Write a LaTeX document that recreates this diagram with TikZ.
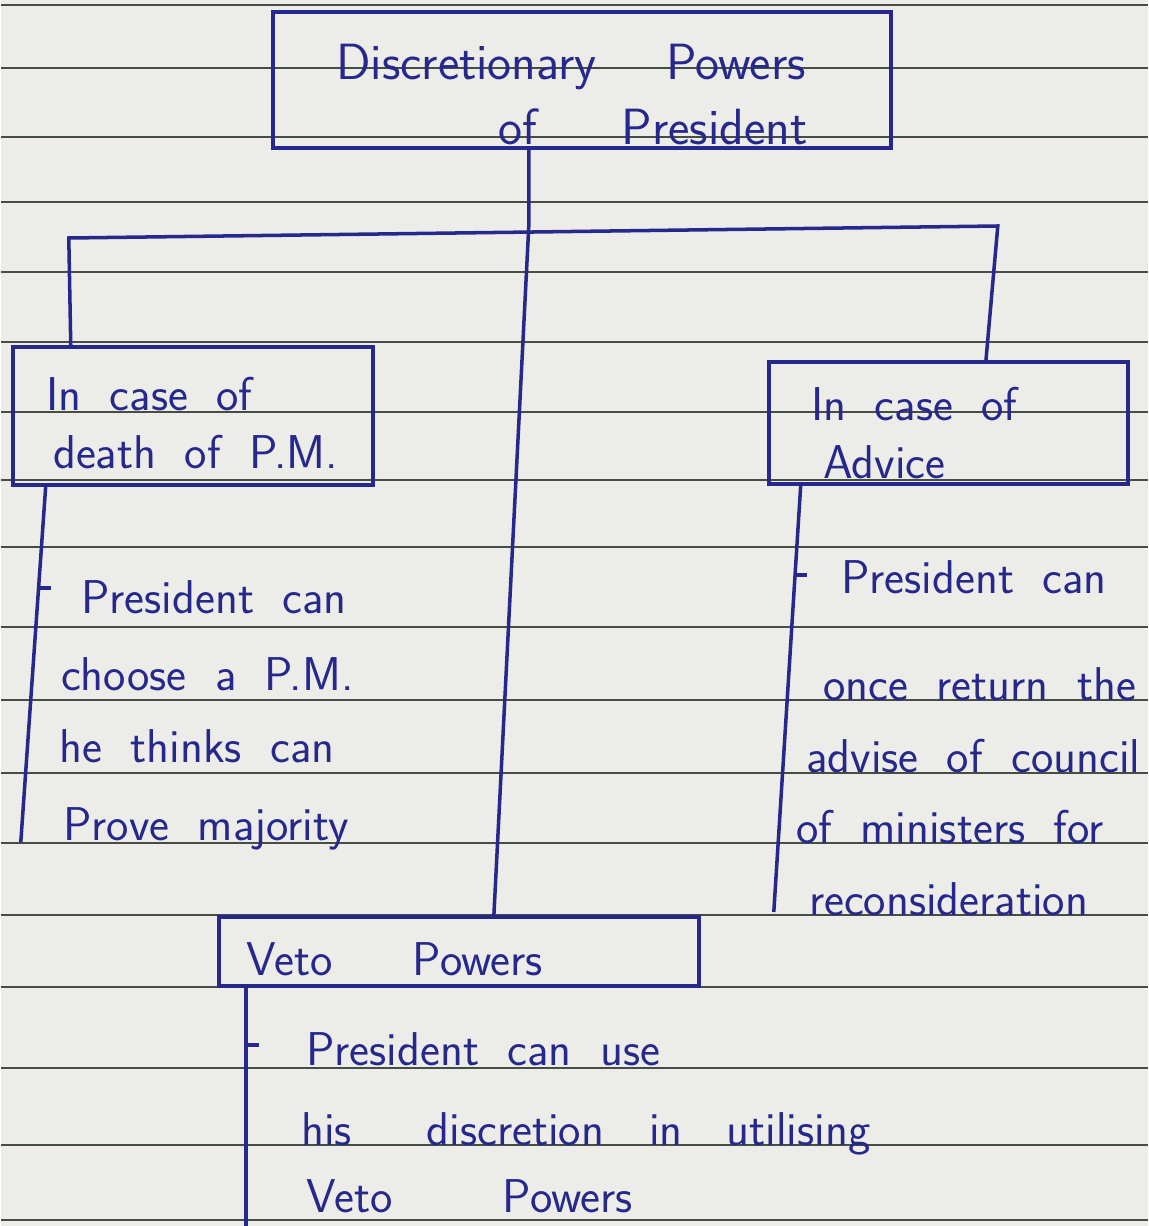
\documentclass[tikz,border=0pt]{standalone}
\usepackage{xcolor}
\usepackage{tikz}
\usetikzlibrary{positioning}
\pgfdeclarelayer{paperlayer}
\pgfdeclarelayer{nodelayer}
\pgfdeclarelayer{edgelayer}
\pgfsetlayers{paperlayer,nodelayer,edgelayer,main}
\definecolor{ink}{RGB}{38,40,140}
\definecolor{paper}{RGB}{236,236,232}
\definecolor{rule}{RGB}{70,78,68}
\tikzset{
    none/.style = {inner sep=0pt},
    box/.style = {draw=ink, line width=2pt, inner sep=0pt},
    txt/.style = {anchor=base west, inner sep=0pt, text=ink, font={\fontsize{27}{31}\selectfont\sffamily\spaceskip=0.6em\relax}},
    head/.style = {txt, font={\fontsize{29}{33}\selectfont\sffamily\spaceskip=0.6em\relax}},
    wire/.style = {draw=ink, line width=2pt}
}

\begin{document}
\begin{tikzpicture}[x=0.02cm, y=-0.02cm]
  \begin{pgfonlayer}{paperlayer}
    \fill [paper] (0,0) rectangle (1147,1226);
    \foreach \y in {5,68,137,202,272,342,412,480,547,627,700,773,843,915,987,1068,1145,1220}
      \draw [rule, line width=0.9pt] (0,\y) -- (1147,\y);
  \end{pgfonlayer}
  \useasboundingbox (0,0) rectangle (1147,1226);
  \begin{pgfonlayer}{nodelayer}
    \node [style=box, minimum width=12.36cm, minimum height=2.72cm] (0) at (581, 80) {};
    \node [style=box, minimum width=7.2cm, minimum height=2.76cm] (1) at (192, 416) {};
    \node [style=box, minimum width=7.18cm, minimum height=2.44cm] (2) at (947.5, 423) {};
    \node [style=box, minimum width=9.6cm, minimum height=1.38cm] (3) at (458, 951.5) {};
    \node [style=none] (4) at (528, 148) {};
    \node [style=none] (5) at (528, 226) {};
    \node [style=none] (6) at (493, 917) {};
    \node [style=none] (7) at (70, 347) {};
    \node [style=none] (8) at (68, 238) {};
    \node [style=none] (9) at (997, 226) {};
    \node [style=none] (10) at (985, 362) {};
    \node [style=none] (11) at (45, 485) {};
    \node [style=none] (12) at (20, 842) {};
    \node [style=none] (13) at (38, 588) {};
    \node [style=none] (14) at (50, 588) {};
    \node [style=none] (15) at (800, 484) {};
    \node [style=none] (16) at (773, 912) {};
    \node [style=none] (17) at (794, 575) {};
    \node [style=none] (18) at (806, 575) {};
    \node [style=none] (19) at (245, 986) {};
    \node [style=none] (20) at (245, 1226) {};
    \node [style=none] (21) at (245, 1045) {};
    \node [style=none] (22) at (258, 1045) {};
    \node [style=head] (23) at (335, 80) {Discretionary\hspace{1.4cm}Powers};
    \node [style=head] (24) at (497, 145) {of\hspace{1.7cm}President};
    \node [style=txt] (25) at (45, 410) {In case of};
    \node [style=txt] (26) at (52, 468) {death of P.M.};
    \node [style=txt] (27) at (810, 420) {In case of};
    \node [style=txt] (28) at (822, 478) {Advice};
    \node [style=txt] (29) at (80, 613) {President can};
    \node [style=txt] (30) at (60, 690) {choose a P.M.};
    \node [style=txt] (31) at (58, 762) {he thinks can};
    \node [style=txt] (32) at (62, 840) {Prove majority};
    \node [style=txt] (33) at (840, 593) {President can};
    \node [style=txt] (34) at (822, 700) {once return the};
    \node [style=txt] (35) at (805, 772) {advise of council};
    \node [style=txt] (36) at (795, 843) {of ministers for};
    \node [style=txt] (37) at (808, 915) {reconsideration};
    \node [style=txt] (38) at (245, 975) {Veto\hspace{1.6cm}Powers};
    \node [style=txt] (39) at (305, 1065) {President can use};
    \node [style=txt] (40) at (300, 1145) {his\hspace{1.5cm}discretion\hspace{0.9cm}in\hspace{0.88cm}utilising};
    \node [style=txt] (41) at (305, 1212) {Veto\hspace{2.2cm}Powers};
  \end{pgfonlayer}
  \begin{pgfonlayer}{edgelayer}
    \draw [style=wire] (4.center) to (5.center) to (6.center);
    \draw [style=wire] (7.center) to (8.center) to (9.center) to (10.center);
    \draw [style=wire] (11.center) to (12.center);
    \draw [style=wire] (13.center) to (14.center);
    \draw [style=wire] (15.center) to (16.center);
    \draw [style=wire] (17.center) to (18.center);
    \draw [style=wire] (19.center) to (20.center);
    \draw [style=wire] (21.center) to (22.center);
  \end{pgfonlayer}
\end{tikzpicture}
\end{document}
